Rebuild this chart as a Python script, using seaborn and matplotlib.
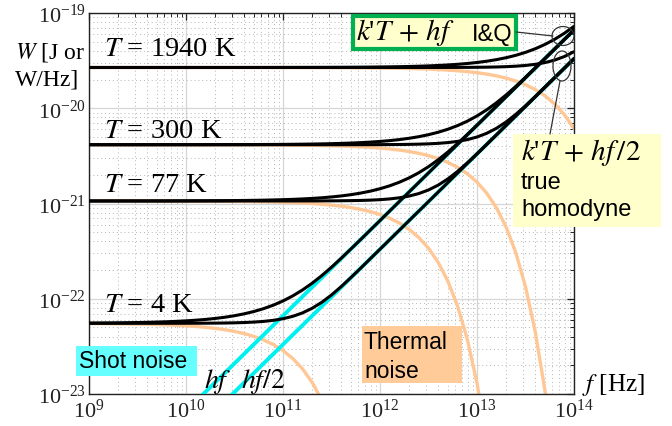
import matplotlib
matplotlib.use("Agg")
import matplotlib.pyplot as plt
import matplotlib.patches as mpatches
import matplotlib.lines as mlines
import numpy as np
import pandas as pd
import seaborn as sns

# ---------------- data ----------------
freq_hz = [1.000e9, 1.259e9, 1.585e9, 1.995e9, 2.512e9, 3.162e9, 3.981e9, 5.012e9, 6.310e9, 7.943e9,
           1.000e10, 1.259e10, 1.585e10, 1.995e10, 2.512e10, 3.162e10, 3.981e10, 5.012e10, 6.310e10, 7.943e10,
           1.000e11, 1.259e11, 1.585e11, 1.995e11, 2.512e11, 3.162e11, 3.981e11, 5.012e11, 6.310e11, 7.943e11,
           1.000e12, 1.259e12, 1.585e12, 1.995e12, 2.512e12, 3.162e12, 3.981e12, 5.012e12, 6.310e12, 7.943e12,
           1.000e13, 1.259e13, 1.585e13, 1.995e13, 2.512e13, 3.162e13, 3.981e13, 5.012e13, 6.310e13, 7.943e13,
           1.000e14]

# shot noise hf  [J]
shot_hf = [6.626e-25, 8.342e-25, 1.050e-24, 1.322e-24, 1.664e-24, 2.095e-24, 2.638e-24, 3.321e-24, 4.181e-24, 5.263e-24,
           6.626e-24, 8.342e-24, 1.050e-23, 1.322e-23, 1.664e-23, 2.095e-23, 2.638e-23, 3.321e-23, 4.181e-23, 5.263e-23,
           6.626e-23, 8.342e-23, 1.050e-22, 1.322e-22, 1.664e-22, 2.095e-22, 2.638e-22, 3.321e-22, 4.181e-22, 5.263e-22,
           6.626e-22, 8.342e-22, 1.050e-21, 1.322e-21, 1.664e-21, 2.095e-21, 2.638e-21, 3.321e-21, 4.181e-21, 5.263e-21,
           6.626e-21, 8.342e-21, 1.050e-20, 1.322e-20, 1.664e-20, 2.095e-20, 2.638e-20, 3.321e-20, 4.181e-20, 5.263e-20,
           6.626e-20]

# thermal noise k'T for each temperature (in units given)
thermal_1940K_e20 = [2.6785, 2.6785, 2.6784, 2.6784, 2.6784, 2.6784, 2.6784, 2.6783, 2.6783, 2.6782,
                     2.6782, 2.6781, 2.6780, 2.6778, 2.6777, 2.6775, 2.6772, 2.6768, 2.6764, 2.6759,
                     2.6752, 2.6743, 2.6733, 2.6719, 2.6702, 2.6680, 2.6653, 2.6619, 2.6577, 2.6523,
                     2.6455, 2.6370, 2.6263, 2.6130, 2.5962, 2.5751, 2.5488, 2.5159, 2.4749, 2.4239,
                     2.3609, 2.2831, 2.1877, 2.0716, 1.9320, 1.7661, 1.5727, 1.3528, 1.1112, 0.8580,
                     0.6098]
thermal_300K_e21 = [4.1416, 4.1415, 4.1414, 4.1412, 4.1411, 4.1409, 4.1406, 4.1402, 4.1398, 4.1393,
                    4.1386, 4.1377, 4.1366, 4.1353, 4.1336, 4.1314, 4.1287, 4.1253, 4.1210, 4.1156,
                    4.1089, 4.1003, 4.0896, 4.0762, 4.0592, 4.0380, 4.0114, 3.9781, 3.9364, 3.8843,
                    3.8194, 3.7387, 3.6388, 3.5160, 3.3653, 3.1822, 2.9620, 2.7010, 2.3974, 2.0532,
                    1.6768, 1.2848, 0.9036, 0.5666, 0.3048, 0.1340, 0.04530, 0.01095, 0.001729]
thermal_77K_e21 = [1.0628, 1.0627, 1.0626, 1.0624, 1.0623, 1.0621, 1.0618, 1.0614, 1.0610, 1.0605,
                   1.0598, 1.0589, 1.0579, 1.0565, 1.0548, 1.0527, 1.0500, 1.0466, 1.0423, 1.0370,
                   1.0303, 1.0219, 1.0115, 0.9984, 0.9820, 0.9618, 0.9366, 0.9057, 0.8677, 0.8216,
                   0.7660, 0.7000, 0.6231, 0.5357, 0.4397, 0.3392, 0.2408, 0.1528, 0.08355, 0.03752,
                   0.01304, 0.003265]
thermal_4K_e23 = [5.489, 5.481, 5.470, 5.457, 5.440, 5.419, 5.392, 5.358, 5.316, 5.264,
                  5.198, 5.116, 5.014, 4.888, 4.732, 4.541, 4.308, 4.028, 3.694, 3.303,
                  2.857, 2.364, 1.844, 1.328, 0.8596, 0.4824, 0.2242, 0.08151]

temperatures = ["1940", "300", "77", "4"]
thermal = {
    "1940": [v * 1e-20 for v in thermal_1940K_e20],
    "300": [v * 1e-21 for v in thermal_300K_e21],
    "77": [v * 1e-21 for v in thermal_77K_e21],
    "4": [v * 1e-23 for v in thermal_4K_e23],
}
shot_hf_half = [v / 2 for v in shot_hf]

# ---------------- style ----------------
sns.set_theme(style="white")
plt.rcParams["font.family"] = ["Liberation Serif", "DejaVu Serif"]
plt.rcParams["mathtext.fontset"] = "stix"
plt.rcParams["axes.unicode_minus"] = True

W, H = 672, 427
fig = plt.figure(figsize=(W / 100, H / 100), dpi=100)
ax = fig.add_axes([89 / W, 1 - 395 / H, (574 - 89) / W, (395 - 14) / H])
ax.set_xscale("log")
ax.set_yscale("log")

ORANGE = "#FFC795"
CYAN = "#00F0F0"

# thermal noise (orange)
for T in temperatures:
    n = len(thermal[T])
    df = pd.DataFrame({"f": freq_hz[:n], "W": thermal[T]})
    sns.lineplot(data=df, x="f", y="W", ax=ax, color=ORANGE, lw=2.4,
                 sort=False, estimator=None, legend=False, zorder=2)

# shot noise (cyan)
for series in (shot_hf, shot_hf_half):
    df = pd.DataFrame({"f": freq_hz, "W": series})
    sns.lineplot(data=df, x="f", y="W", ax=ax, color=CYAN, lw=2.8,
                 sort=False, estimator=None, legend=False, zorder=3)

# total noise k'T + hf and k'T + hf/2 (black)
for T in temperatures:
    th = thermal[T]
    n = len(th)
    for shot in (shot_hf, shot_hf_half):
        total = [a + b for a, b in zip(th, shot[:n])] + list(shot[n:])
        df = pd.DataFrame({"f": freq_hz, "W": total})
        sns.lineplot(data=df, x="f", y="W", ax=ax, color="black", lw=2.2,
                     sort=False, estimator=None, legend=False, zorder=4)

ax.set_xlim(1e9, 1e14)
ax.set_ylim(1e-23, 1e-19)
ax.set_xlabel("")
ax.set_ylabel("")

ax.xaxis.set_major_locator(matplotlib.ticker.LogLocator(base=10, numticks=10))
ax.xaxis.set_minor_locator(matplotlib.ticker.LogLocator(base=10, subs=np.arange(2, 10), numticks=100))
ax.yaxis.set_major_locator(matplotlib.ticker.LogLocator(base=10, numticks=10))
ax.yaxis.set_minor_locator(matplotlib.ticker.LogLocator(base=10, subs=np.arange(2, 10), numticks=100))
ax.xaxis.set_minor_formatter(matplotlib.ticker.NullFormatter())
ax.yaxis.set_minor_formatter(matplotlib.ticker.NullFormatter())

ax.tick_params(which="both", direction="in", top=True, right=True, colors="#222222")
ax.tick_params(which="major", length=5, width=0.9, labelsize=16, pad=3)
ax.tick_params(which="minor", length=3, width=0.7)
ax.tick_params(axis="y", which="major", pad=2)

ax.set_axisbelow(True)
ax.grid(which="major", color="#d6d6d6", lw=0.9, ls="-")
ax.grid(which="minor", color="#b5b5b5", lw=0.7, ls=(0, (1, 3)))
for sp in ax.spines.values():
    sp.set_color("#222222")
    sp.set_linewidth(1.0)


def fx(x):
    return x / W


def fy(y):
    return 1 - y / H


def rect(x0, y0, x1, y1, fc, ec="none", lw=0):
    r = mpatches.Rectangle((fx(x0), fy(y1)), fx(x1) - fx(x0), fy(y0) - fy(y1),
                           transform=fig.transFigure, facecolor=fc, edgecolor=ec,
                           linewidth=lw, zorder=5)
    fig.add_artist(r)


def txt(x, y, s, size, family=None, ha="left"):
    kw = {}
    if family is not None:
        kw["family"] = family
    fig.text(fx(x), fy(y), s, fontsize=size, ha=ha, va="center", color="black",
             zorder=6, **kw)


SANS = ["Liberation Sans", "DejaVu Sans"]

# temperature labels
txt(104, 50, r"$T$ = 1940 K", 20.5)
txt(104, 132, r"$T$ = 300 K", 20.5)
txt(104, 186, r"$T$ = 77 K", 20.5)
txt(104, 305, r"$T$ = 4 K", 20.5)

# axis labels
txt(15, 52, r"$W$ [J or", 17)
txt(15, 80, "W/Hz]", 17)
txt(582, 385, r"$f$ [Hz]", 18)

# shot noise labels
txt(204, 382, r"$hf$", 20)
txt(241, 382, r"$hf/2$", 20)

# boxes
rect(353, 17, 516, 50, "#FFFFCC", ec="#00B050", lw=3.0)
txt(356, 33, r"$k$'$T\,+\,hf$", 21)
txt(472, 35, "I&Q", 17, family=SANS)

rect(513, 135, 661, 228, "#FFFFCC")
txt(521, 153, r"$k$'$T\,+\,hf\,/2$", 21)
txt(521, 183, "true", 17, family=SANS)
txt(521, 210, "homodyne", 17, family=SANS)

rect(76, 347, 197, 377, "#66FFFF")
txt(79, 362, "Shot noise", 16.5, family=SANS)

rect(362, 327, 462, 384, "#FFCC99")
txt(364, 343, "Thermal", 16.5, family=SANS)
txt(364, 372, "noise", 16.5, family=SANS)

# ellipses and pointer lines
for (cx, cy, ew, eh) in [(563, 37, 22, 19), (562, 67, 18, 30)]:
    e = mpatches.Ellipse((fx(cx), fy(cy)), ew / W, eh / H, transform=fig.transFigure,
                         facecolor="none", edgecolor="#333333", lw=0.9, zorder=6)
    fig.add_artist(e)
for (x0, y0, x1, y1) in [(516, 33, 553, 37), (560, 82, 550, 135)]:
    fig.add_artist(mlines.Line2D([fx(x0), fx(x1)], [fy(y0), fy(y1)], transform=fig.transFigure,
                                 color="#333333", lw=0.9, zorder=6))

fig.savefig("out.png", dpi=100)
